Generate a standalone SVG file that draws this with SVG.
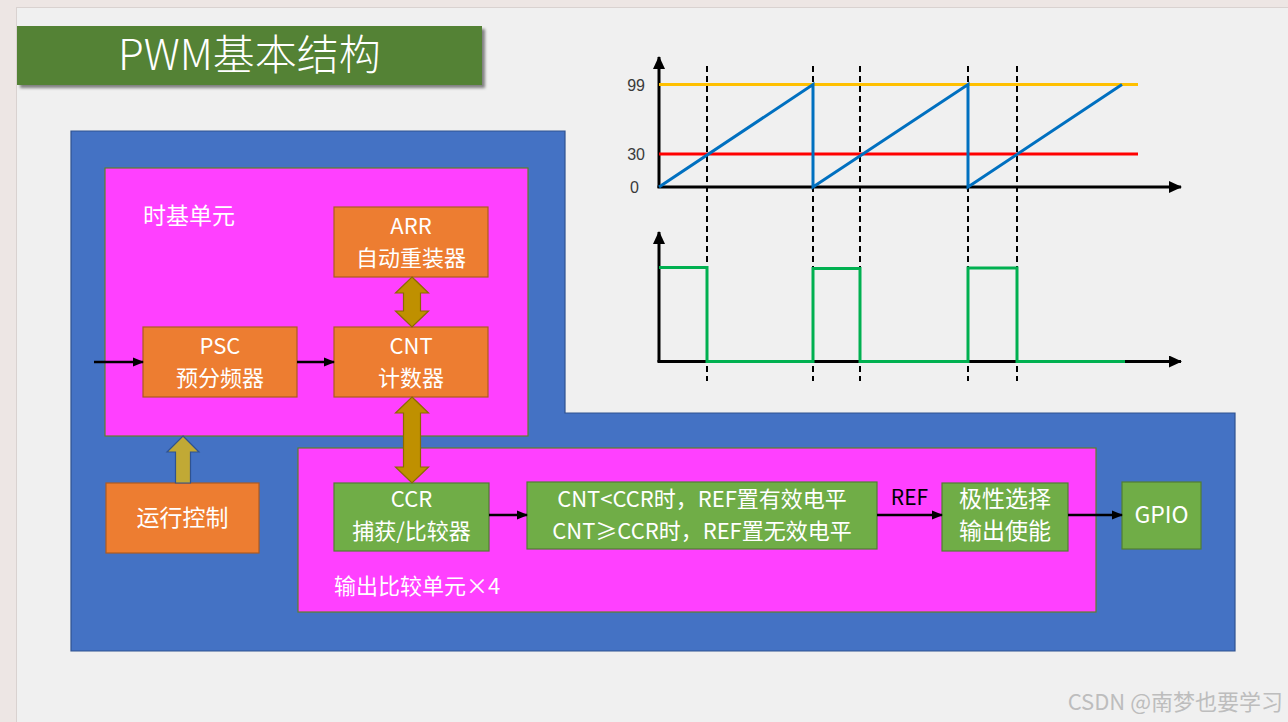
<svg xmlns="http://www.w3.org/2000/svg" width="1288" height="722" viewBox="0 0 1288 722">
<style>
  .t { font-family: "Noto Sans CJK SC", "Noto Sans", sans-serif; fill: #ffffff; text-anchor: middle; }
  .f23 { font-size: 22px; }
  .orange { fill: #ed7d31; stroke: #ae5a21; stroke-width: 1.2; }
  .green { fill: #70ad47; stroke: #507e32; stroke-width: 1.2; }
  .pink { fill: #ff40ff; stroke: #5f7f2a; stroke-width: 1.2; }
  .conn { stroke: #000000; stroke-width: 2.6; fill: none; }
  .gold { fill: #bf9000; stroke: #8a6a00; stroke-width: 1.2; }
  .dash { stroke: #000000; stroke-width: 2; stroke-dasharray: 6 4; fill: none; }
  .axis { stroke: #000000; stroke-width: 3; fill: none; }
  .lbl { font-family: "Liberation Sans", "Noto Sans", sans-serif; font-size: 16px; fill: #3a3a3a; text-anchor: end; }
</style>
<defs>
  <marker id="ah" markerUnits="userSpaceOnUse" markerWidth="11" markerHeight="10" refX="10" refY="5" orient="auto">
    <path d="M0,0.5 L11,5 L0,9.5 z" fill="#000000"/>
  </marker>
  <marker id="axh" markerUnits="userSpaceOnUse" markerWidth="14" markerHeight="12" refX="12" refY="6" orient="auto">
    <path d="M0,0 L13,6 L0,12 z" fill="#000000"/>
  </marker>
  <filter id="sh" x="-5%" y="-20%" width="110%" height="140%">
    <feGaussianBlur stdDeviation="1.5"/>
  </filter>
</defs>

<!-- backgrounds -->
<rect x="0" y="0" width="1288" height="722" fill="#ede6e4"/>
<rect x="16.5" y="7.5" width="1280" height="720" fill="#f0f0f0" stroke="#d9d2d0" stroke-width="1"/>

<!-- title -->
<g id="title">
  <rect x="20" y="29" width="465" height="59" fill="#7f7f7f" filter="url(#sh)"/>
  <rect x="17" y="26" width="465" height="59" fill="#548235"/>
  <text x="249.5" y="70" class="t" font-size="42" font-weight="300">PWM基本结构</text>
</g>

<!-- timer body -->
<g id="timer-body">
  <path d="M71,131 L565,131 L565,413 L1235,413 L1235,651 L71,651 Z" fill="#4472c4" stroke="#2f528f" stroke-width="1.2"/>
</g>

<g id="time-base-unit">
  <rect x="105" y="168" width="423" height="268" class="pink"/>
  <text x="143" y="224" class="t" font-size="23" style="text-anchor:start">时基单元</text>
</g>

<g id="output-compare-unit">
  <rect x="298" y="448" width="798" height="164" class="pink"/>
  <text x="334" y="594" class="t" font-size="22" style="text-anchor:start">输出比较单元×4</text>
</g>

<g id="ARR">
  <rect x="334" y="207" width="154" height="70" class="orange"/>
  <text class="t f23"><tspan x="411" y="234">ARR</tspan><tspan x="411" y="266">自动重装器</tspan></text>
</g>

<g id="PSC">
  <rect x="143" y="327" width="154" height="70" class="orange"/>
  <text class="t f23"><tspan x="220" y="354">PSC</tspan><tspan x="220" y="386">预分频器</tspan></text>
</g>

<g id="CNT">
  <rect x="334" y="327" width="154" height="70" class="orange"/>
  <text class="t f23"><tspan x="411" y="354">CNT</tspan><tspan x="411" y="386">计数器</tspan></text>
</g>

<g id="run-control">
  <rect x="106" y="483" width="153" height="70" class="orange"/>
  <text x="182.5" y="526" class="t" font-size="23">运行控制</text>
</g>

<g id="CCR">
  <rect x="334" y="483" width="155" height="68" class="green"/>
  <text class="t f23"><tspan x="411.5" y="507">CCR</tspan><tspan x="411.5" y="539">捕获/比较器</tspan></text>
</g>

<g id="compare-logic">
  <rect x="527" y="482" width="350" height="67" class="green"/>
  <text class="t f23"><tspan x="702" y="507">CNT&lt;CCR时，REF置有效电平</tspan><tspan x="702" y="539">CNT≥CCR时，REF置无效电平</tspan></text>
</g>

<g id="polarity">
  <rect x="942" y="483" width="126" height="68" class="green"/>
  <text class="t" font-size="23"><tspan x="1005" y="507">极性选择</tspan><tspan x="1005" y="539">输出使能</tspan></text>
</g>

<g id="GPIO">
  <rect x="1122" y="482" width="79" height="67" class="green"/>
  <text x="1161.5" y="523" class="t" font-size="23">GPIO</text>
</g>

<!-- connectors -->
<g id="connectors">
  <line x1="94" y1="362" x2="143" y2="362" class="conn" marker-end="url(#ah)"/>
  <line x1="297" y1="362" x2="334" y2="362" class="conn" marker-end="url(#ah)"/>
  <line x1="489" y1="515" x2="527" y2="515" class="conn" marker-end="url(#ah)"/>
  <line x1="877" y1="515" x2="942" y2="515" class="conn" marker-end="url(#ah)"/>
  <line x1="1068" y1="515" x2="1122" y2="515" class="conn" marker-end="url(#ah)"/>
  <text x="909.5" y="505" font-family="Noto Sans CJK SC, Noto Sans, sans-serif" font-size="21" fill="#000000" text-anchor="middle">REF</text>
  <!-- ARR <-> CNT -->
  <path d="M412,277 L428.5,293 L420.5,293 L420.5,311 L428.5,311 L412,327 L395.5,311 L403.5,311 L403.5,293 L395.5,293 Z" class="gold"/>
  <!-- CNT <-> CCR -->
  <path d="M412,397 L428.5,413 L420.5,413 L420.5,467 L428.5,467 L412,483 L395.5,467 L403.5,467 L403.5,413 L395.5,413 Z" class="gold"/>
  <!-- run control -> time base -->
  <path d="M183,436 L199,452 L190.5,452 L190.5,483 L175.5,483 L175.5,452 L167,452 Z" fill="#c1a935" stroke="#2f528f" stroke-width="1.2"/>
</g>

<!-- waveform chart -->
<g id="dashed-markers">
  <line x1="707" y1="66" x2="707" y2="381" class="dash"/>
  <line x1="813" y1="66" x2="813" y2="381" class="dash"/>
  <line x1="860" y1="66" x2="860" y2="381" class="dash"/>
  <line x1="968" y1="66" x2="968" y2="381" class="dash"/>
  <line x1="1017" y1="66" x2="1017" y2="381" class="dash"/>
</g>

<g id="chart-counter">
  <line x1="659" y1="188" x2="659" y2="57" class="axis" marker-end="url(#axh)"/>
  <line x1="657.5" y1="187" x2="1181" y2="187" class="axis" marker-end="url(#axh)"/>
  <line x1="659" y1="84.5" x2="1138" y2="84.5" stroke="#ffc000" stroke-width="3"/>
  <line x1="659" y1="154" x2="1138" y2="154" stroke="#ff0000" stroke-width="3"/>
  <polyline points="659,187 813,84.5 813,187 968,84.5 968,187 1122,84.5" fill="none" stroke="#0070c0" stroke-width="3" stroke-linejoin="miter"/>
  <text x="645" y="91" class="lbl">99</text>
  <text x="645" y="160" class="lbl">30</text>
  <text x="639" y="193" class="lbl">0</text>
</g>

<g id="chart-pwm">
  <line x1="659" y1="362" x2="659" y2="232" class="axis" marker-end="url(#axh)"/>
  <line x1="657.5" y1="361.5" x2="1181" y2="361.5" class="axis" marker-end="url(#axh)"/>
  <polyline points="659,267.5 707,267.5 707,361.5 813,361.5 813,268.5 860,268.5 860,361.5 968,361.5 968,268 1017,268 1017,361.5 1125,361.5" fill="none" stroke="#00b050" stroke-width="3"/>
</g>

<text x="1283" y="710" font-family="Noto Sans CJK SC, Noto Sans, sans-serif" font-size="22" fill="#bdbdbd" text-anchor="end">CSDN @南梦也要学习</text>
</svg>
